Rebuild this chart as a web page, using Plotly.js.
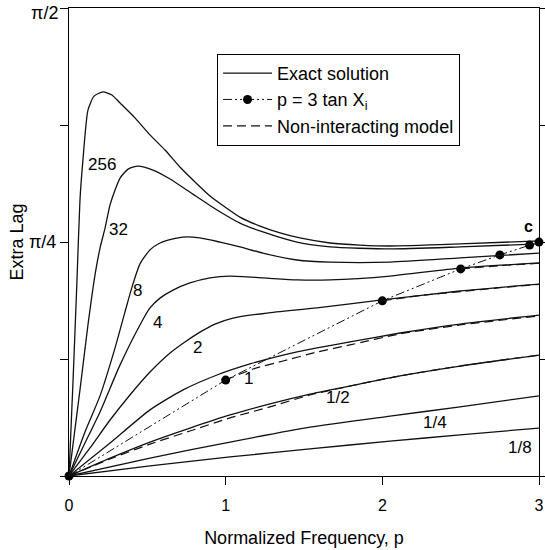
<!DOCTYPE html>
<html>
<head>
<meta charset="utf-8">
<script src="https://cdn.plot.ly/plotly-3.0.1.min.js"></script>
<style>html,body{margin:0;padding:0;background:#fff;}</style>
</head>
<body>
<div id="chart" style="width:545px;height:550px;"></div>
<script>
// Exact solution curves (x = normalized frequency p, y = extra lag in radians)
const x256 = [0, 0.026, 0.051, 0.070, 0.089, 0.121, 0.160, 0.217, 0.274, 0.326, 0.421, 0.517, 0.613, 0.708, 0.804, 0.900, 0.996, 1.091, 1.219, 1.347, 1.474, 1.666, 1.857, 2.049, 2.496, 3.0];
const y256 = [0, 0.322, 0.658, 0.926, 1.061, 1.228, 1.275, 1.289, 1.279, 1.252, 1.202, 1.145, 1.094, 1.037, 0.987, 0.940, 0.903, 0.869, 0.839, 0.816, 0.799, 0.782, 0.775, 0.772, 0.779, 0.789];

const x32 = [0, 0.070, 0.121, 0.166, 0.198, 0.230, 0.262, 0.294, 0.326, 0.377, 0.440, 0.536, 0.645, 0.791, 0.945, 1.091, 1.238, 1.455, 1.666, 2.049, 2.496, 3.0];
const y32 = [0, 0.289, 0.507, 0.675, 0.765, 0.832, 0.910, 0.960, 1.000, 1.030, 1.040, 1.027, 0.997, 0.946, 0.893, 0.849, 0.819, 0.785, 0.769, 0.762, 0.769, 0.779];

const x8 = [0, 0.102, 0.198, 0.294, 0.357, 0.402, 0.453, 0.517, 0.581, 0.657, 0.728, 0.836, 0.964, 1.091, 1.238, 1.455, 1.666, 2.049, 2.496, 3.0];
const y8 = [0, 0.148, 0.269, 0.430, 0.550, 0.634, 0.712, 0.759, 0.782, 0.795, 0.802, 0.799, 0.785, 0.769, 0.748, 0.725, 0.718, 0.718, 0.732, 0.748];

const x4 = [0, 0.102, 0.198, 0.326, 0.453, 0.517, 0.581, 0.664, 0.772, 0.900, 1.028, 1.238, 1.455, 1.666, 2.049, 2.496, 3.0];
const y4 = [0, 0.111, 0.215, 0.373, 0.507, 0.564, 0.597, 0.624, 0.648, 0.665, 0.671, 0.665, 0.658, 0.658, 0.671, 0.698, 0.715];

const x2 = [0, 0.134, 0.262, 0.389, 0.517, 0.645, 0.740, 0.836, 0.932, 1.047, 1.264, 1.583, 1.998, 2.496, 3.0];
const y2 = [0, 0.094, 0.188, 0.272, 0.349, 0.413, 0.450, 0.483, 0.510, 0.530, 0.547, 0.564, 0.591, 0.621, 0.644];

const x1 = [0, 0.262, 0.517, 0.728, 0.945, 1.155, 1.366, 1.583, 1.794, 2.113, 2.496, 3.0];
const y1 = [0, 0.111, 0.222, 0.289, 0.339, 0.376, 0.406, 0.430, 0.450, 0.480, 0.510, 0.540];

const xHalf = [0, 0.262, 0.517, 0.772, 1.028, 1.283, 1.538, 1.794, 2.113, 2.496, 3.0];
const yHalf = [0, 0.060, 0.114, 0.161, 0.205, 0.242, 0.275, 0.302, 0.336, 0.369, 0.406];

const xQuarter = [0, 0.517, 1.028, 1.538, 2.049, 2.496, 3.0];
const yQuarter = [0, 0.060, 0.114, 0.164, 0.201, 0.232, 0.269];

const xEighth = [0, 0.517, 1.028, 1.538, 2.049, 2.496, 3.0];
const yEighth = [0, 0.034, 0.064, 0.091, 0.117, 0.138, 0.161];

// p = 3 tan X_i points
const xDots = [0, 1.0, 2.0, 2.5, 2.75, 2.94, 3.0];
const yDots = [0, 0.322, 0.588, 0.695, 0.742, 0.775, 0.785];

// Non-interacting model (dashed)
const xNi1 = [1.0, 1.174, 1.366, 1.583, 1.794, 2.113, 2.496, 3.0];
const yNi1 = [0.322, 0.359, 0.386, 0.416, 0.440, 0.477, 0.507, 0.537];
const xNiHalf = [0, 0.262, 0.517, 0.772, 1.028, 1.283, 1.538, 1.794, 2.113, 2.496, 3.0];
const yNiHalf = [0, 0.057, 0.107, 0.151, 0.195, 0.232, 0.272, 0.302, 0.336, 0.369, 0.406];
const xNi2 = [2.0, 2.25, 2.5, 2.75, 3.0];
const yNi2 = [0.588, 0.606, 0.619, 0.632, 0.643];
const xNi4 = [2.5, 2.75, 3.0];
const yNi4 = [0.695, 0.706, 0.714];

// Curve labels
const labelText = ['256', '32', '8', '4', '2', '1', '1/2', '1/4', '1/8'];
const labelX = [0.211, 0.319, 0.440, 0.568, 0.823, 1.143, 1.717, 2.336, 2.879];
const labelY = [1.047, 0.829, 0.624, 0.514, 0.430, 0.326, 0.262, 0.178, 0.097];

// Axis tick labels
const xTickVals = [0, 1, 2, 3];
const xTickText = ['0', '1', '2', '3'];
const yTickVals = [0, Math.PI / 8, Math.PI / 4, 3 * Math.PI / 8, Math.PI / 2];
const yTickText = ['', '', 'π/4', '', ''];
const topYLabel = 'π/2';

const FONT = 'Liberation Sans, Arial, Helvetica, sans-serif';
const solid = {color: '#111', width: 1.3, shape: 'spline', smoothing: 0.6};
const dashed = {color: '#111', width: 1.2, dash: '9px,5px', shape: 'spline', smoothing: 0.6};

const exact = [[x256, y256], [x32, y32], [x8, y8], [x4, y4], [x2, y2], [x1, y1], [xHalf, yHalf], [xQuarter, yQuarter], [xEighth, yEighth]];
const nonInt = [[xNiHalf, yNiHalf], [xNi1, yNi1], [xNi2, yNi2], [xNi4, yNi4]];

const traces = [];
exact.forEach((c, i) => {
  if (i === 0) {
    traces.push({x: c[0], y: c[1], mode: 'lines', line: solid, name: 'Exact solution', showlegend: true, hoverinfo: 'skip'});
    traces.push({x: xDots, y: yDots, mode: 'lines+markers', name: 'p = 3 tan X<sub>i</sub>',
      line: {color: '#111', width: 1, dash: '9px,3px,2px,3px,2px,3px'},
      marker: {color: '#000', size: 9}, cliponaxis: false, showlegend: true, hoverinfo: 'skip'});
    nonInt.forEach((d, j) => {
      traces.push({x: d[0], y: d[1], mode: 'lines', line: dashed, name: 'Non-interacting model', showlegend: j === 0, hoverinfo: 'skip'});
    });
  } else {
    traces.push({x: c[0], y: c[1], mode: 'lines', line: solid, showlegend: false, hoverinfo: 'skip'});
  }
});

const annotations = labelText.map((t, i) => ({
  x: labelX[i], y: labelY[i], xref: 'x', yref: 'y', text: t, showarrow: false,
  font: {family: FONT, size: 17, color: '#000'}
}));
annotations.push({x: 2.936, y: 0.836, xref: 'x', yref: 'y', text: '<b>c</b>', showarrow: false,
  font: {family: FONT, size: 16, color: '#000'}});
// top y tick label, nudged down so it stays inside the page
annotations.push({x: 0, xref: 'paper', xanchor: 'right', xshift: -9, y: Math.PI / 2, yref: 'y', yanchor: 'middle', yshift: -5,
  text: topYLabel, showarrow: false, font: {family: FONT, size: 18, color: '#000'}});

const layout = {
  width: 545, height: 550,
  margin: {l: 69, r: 6, t: 8, b: 74},
  paper_bgcolor: '#fff', plot_bgcolor: '#fff',
  font: {family: FONT, color: '#000'},
  showlegend: true,
  legend: {x: 0.315, y: 0.902, xanchor: 'left', yanchor: 'top', bordercolor: '#000', borderwidth: 1,
    bgcolor: '#fff', font: {family: FONT, size: 18, color: '#000'}, traceorder: 'normal', itemwidth: 49},
  xaxis: {range: [0, 3], tickvals: xTickVals, ticktext: xTickText, ticks: 'outside', ticklen: 8,
    tickcolor: '#000', showline: true, linecolor: '#000', linewidth: 1, mirror: true, showgrid: false, zeroline: false,
    ticklabelstandoff: 7,
    tickfont: {family: FONT, size: 16, color: '#000'},
    title: {text: 'Normalized Frequency, p', font: {family: FONT, size: 18, color: '#000'}, standoff: 18}},
  yaxis: {range: [0, Math.PI / 2], tickvals: yTickVals,
    ticktext: yTickText, ticks: 'outside', ticklen: 8, tickcolor: '#000',
    showline: true, linecolor: '#000', linewidth: 1, mirror: 'ticks', showgrid: false, zeroline: false,
    tickfont: {family: FONT, size: 18, color: '#000'},
    title: {text: 'Extra Lag', font: {family: FONT, size: 18, color: '#000'}, standoff: 0}},
  annotations: annotations
};

Plotly.newPlot('chart', traces, layout, {displayModeBar: false, staticPlot: true});
</script>
</body>
</html>
